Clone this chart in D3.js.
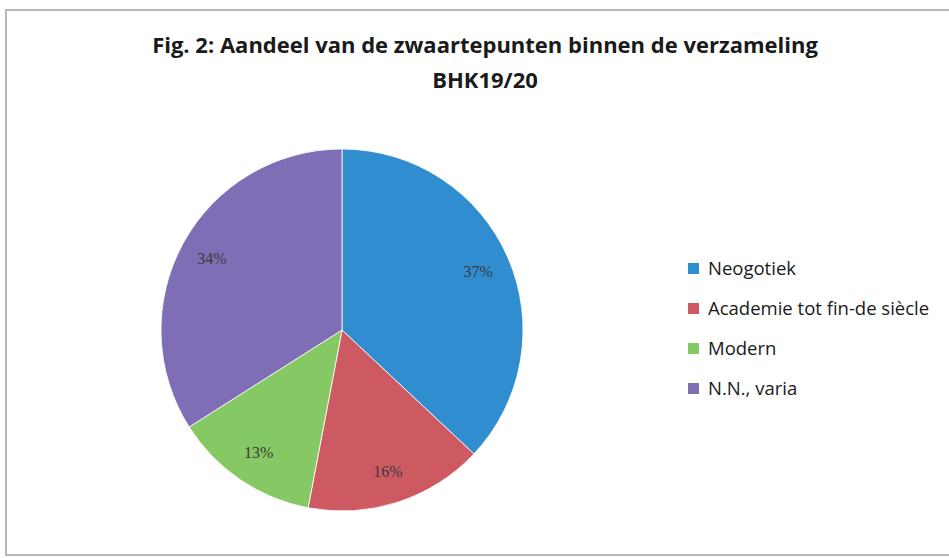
<!DOCTYPE html>
<html lang="nl">
<head>
    <meta charset="UTF-8">
    <title>Fig. 2</title>
    <script src="https://d3js.org/d3.v7.min.js"></script>
    <style>
        body { margin: 0; background: #fff; }
        svg { display: block; }
    </style>
</head>
<body>
    <script>
    // data
    const categories = ["Neogotiek", "Academie tot fin-de siècle", "Modern", "N.N., varia"];
    const shares = [37, 16, 13, 34];
    const colors = ["#2f8dd0", "#cd5a62", "#86c863", "#7f6db5"];
    const titleLines = ["Fig. 2: Aandeel van de zwaartepunten binnen de verzameling", "BHK19/20"];

    const W = 949, H = 558;
    const cx = 342, cy = 330, R = 181;

    const svg = d3.select("body").append("svg")
        .attr("width", W)
        .attr("height", H);

    // chart frame (scan shows left + top edges)
    svg.append("rect")
        .attr("x", 6).attr("y", 10)
        .attr("width", W + 10).attr("height", H - 13)
        .attr("fill", "#fff")
        .attr("stroke", "#b8b8b8")
        .attr("stroke-width", 2);

    // title
    svg.append("g").selectAll("text")
        .data(titleLines)
        .enter().append("text")
        .attr("x", 485)
        .attr("y", (d, i) => 53 + i * 35)
        .attr("text-anchor", "middle")
        .style("font-family", "'Open Sans', sans-serif")
        .style("font-weight", "bold")
        .style("font-size", "22px")
        .style("fill", "#1a1a1a")
        .text(d => d);

    // pie
    const pie = d3.pie().sort(null).value(d => d);
    const arc = d3.arc().innerRadius(0).outerRadius(R);
    const labelArc = d3.arc().innerRadius(R * 0.82).outerRadius(R * 0.82);
    const arcs = pie(shares);

    const g = svg.append("g").attr("transform", `translate(${cx},${cy})`);

    g.selectAll("path")
        .data(arcs)
        .enter().append("path")
        .attr("d", arc)
        .attr("fill", (d, i) => colors[i])
        .attr("stroke", "#fff")
        .attr("stroke-width", 0.8);

    g.selectAll("text")
        .data(arcs)
        .enter().append("text")
        .attr("transform", d => `translate(${labelArc.centroid(d)})`)
        .attr("text-anchor", "middle")
        .attr("dy", "0.35em")
        .style("font-family", "'Liberation Serif', serif")
        .style("font-size", "16px")
        .style("fill", "#3a3a3a")
        .text(d => d.data + "%");

    // legend
    const legend = svg.append("g").attr("transform", "translate(688,268)");
    const item = legend.selectAll("g")
        .data(categories)
        .enter().append("g")
        .attr("transform", (d, i) => `translate(0,${i * 40})`);

    item.append("rect")
        .attr("x", 0).attr("y", -5)
        .attr("width", 11).attr("height", 11)
        .attr("fill", (d, i) => colors[i]);

    item.append("text")
        .attr("x", 20)
        .attr("dy", "0.36em")
        .style("font-family", "'Open Sans', sans-serif")
        .style("font-size", "18.5px")
        .style("fill", "#1a1a1a")
        .text(d => d);
    </script>
</body>
</html>
